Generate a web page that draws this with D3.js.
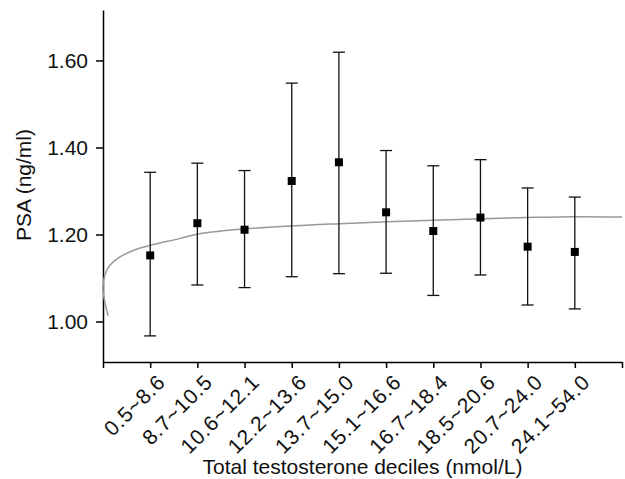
<!DOCTYPE html>
<html>
<head>
<meta charset="utf-8">
<script src="https://cdn.jsdelivr.net/npm/d3@7"></script>
<style>
  body { margin: 0; background: #fff; }
  text { font-family: "Liberation Sans", Arial, sans-serif; fill: #111; }
</style>
</head>
<body>
<div id="chart-container"></div>
<script>
// Decile categories (tick labels)
const deciles = ["0.5~8.6", "8.7~10.5", "10.6~12.1", "12.2~13.6", "13.7~15.0",
                 "15.1~16.6", "16.7~18.4", "18.5~20.6", "20.7~24.0", "24.1~54.0"];

// Mean PSA and the error bar ends
const psaMean  = [1.152, 1.226, 1.211, 1.323, 1.366, 1.251, 1.208, 1.239, 1.172, 1.160];
const psaUpper = [1.343, 1.364, 1.347, 1.548, 1.619, 1.393, 1.358, 1.372, 1.307, 1.286];
const psaLower = [0.967, 1.084, 1.078, 1.103, 1.110, 1.111, 1.060, 1.107, 1.038, 1.029];

// Fitted trend curve (position in decile units, PSA)
const curveX = [0.11, 0.03, 0.0, 0.04, 0.15, 0.32, 0.68, 1.0, 1.6, 2.02, 3.01, 5.01, 7.0, 9.0, 10.0, 11.0];
const curveY = [1.013, 1.050, 1.077, 1.107, 1.130, 1.146, 1.165, 1.175, 1.190, 1.201, 1.213, 1.225, 1.233, 1.239, 1.241, 1.240];

const yTicks = [1.00, 1.20, 1.40, 1.60];

const width = 625, height = 479;
const margin = { left: 103, right: 622, top: 10, bottom: 362 };

const svg = d3.select("#chart-container").append("svg")
    .attr("width", width)
    .attr("height", height);

// x: decile position 0..11, y: PSA
const x = d3.scaleLinear().domain([0, 11]).range([margin.left, margin.right]);
const y = d3.scaleLinear().domain([0.907, 1.716]).range([margin.bottom, margin.top]);

// Axes
const xAxis = svg.append("g")
    .attr("transform", "translate(0," + margin.bottom + ")")
    .call(d3.axisBottom(x).tickValues(d3.range(0, 12)).tickSize(6).tickSizeOuter(0).tickFormat(""));
xAxis.select(".domain").attr("stroke-width", 1.5);
xAxis.selectAll(".tick line").attr("stroke-width", 1.5);

const yAxis = svg.append("g")
    .attr("transform", "translate(" + margin.left + ",0)")
    .call(d3.axisLeft(y).tickValues(yTicks).tickSize(7).tickSizeOuter(0).tickFormat(d3.format(".2f")));
yAxis.select(".domain").attr("stroke-width", 1.5);
yAxis.selectAll(".tick line").attr("stroke-width", 1.5);
yAxis.selectAll(".tick text")
    .attr("x", -15)
    .style("font-size", "21px")
    .style("font-family", "'Liberation Sans', Arial, sans-serif")
    .attr("fill", "#111");

// Rotated decile labels
svg.selectAll(".xlabel")
    .data(deciles)
    .enter().append("text")
    .attr("class", "xlabel")
    .attr("transform", (d, i) => "translate(" + (x(i + 1) + 6) + "," + (margin.bottom + 11) + ") rotate(-45)")
    .attr("text-anchor", "end")
    .attr("dy", "0.7em")
    .style("font-size", "21px")
    .style("letter-spacing", "0.8px")
    .text(d => d);

// Trend curve
const curvePts = curveX.map((v, i) => [v, curveY[i]]);
svg.append("path")
    .datum(curvePts)
    .attr("fill", "none")
    .attr("stroke", "#999")
    .attr("stroke-width", 1.5)
    .attr("d", d3.line()
        .x(d => x(d[0]))
        .y(d => y(d[1]))
        .curve(d3.curveCatmullRom.alpha(0.5)));

// Error bars
const bars = svg.selectAll(".err")
    .data(psaMean)
    .enter().append("g")
    .attr("class", "err")
    .attr("stroke", "#111")
    .attr("stroke-width", 1.3);

bars.append("line")
    .attr("x1", (d, i) => x(i + 1)).attr("x2", (d, i) => x(i + 1))
    .attr("y1", (d, i) => y(psaUpper[i])).attr("y2", (d, i) => y(psaLower[i]));
bars.append("line")
    .attr("x1", (d, i) => x(i + 1) - 6).attr("x2", (d, i) => x(i + 1) + 6)
    .attr("y1", (d, i) => y(psaUpper[i])).attr("y2", (d, i) => y(psaUpper[i]));
bars.append("line")
    .attr("x1", (d, i) => x(i + 1) - 6).attr("x2", (d, i) => x(i + 1) + 6)
    .attr("y1", (d, i) => y(psaLower[i])).attr("y2", (d, i) => y(psaLower[i]));

// Mean markers
svg.selectAll(".mean")
    .data(psaMean)
    .enter().append("rect")
    .attr("class", "mean")
    .attr("x", (d, i) => x(i + 1) - 4)
    .attr("y", d => y(d) - 4)
    .attr("width", 8)
    .attr("height", 8)
    .attr("fill", "#000");

// Axis titles
svg.append("text")
    .attr("x", (margin.left + margin.right) / 2)
    .attr("y", 474)
    .attr("text-anchor", "middle")
    .style("font-size", "21px")
    .text("Total testosterone deciles (nmol/L)");

svg.append("text")
    .attr("transform", "translate(31,185) rotate(-90)")
    .attr("text-anchor", "middle")
    .style("font-size", "21px")
    .text("PSA (ng/ml)");
</script>
</body>
</html>
